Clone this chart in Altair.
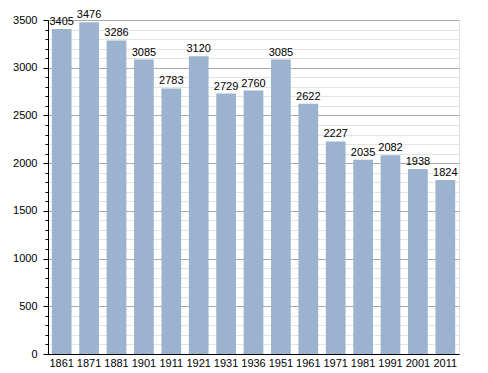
import altair as alt
import pandas as pd

years = ["1861", "1871", "1881", "1901", "1911", "1921", "1931", "1936",
         "1951", "1961", "1971", "1981", "1991", "2001", "2011"]
population = [3405, 3476, 3286, 3085, 2783, 3120, 2729, 2760,
              3085, 2622, 2227, 2035, 2082, 1938, 1824]
y_ticks = list(range(0, 3501, 100))

df = pd.DataFrame({"year": years, "pop": population})

FONT = "Liberation Sans"

x = alt.X("year:N", sort=years, title=None,
          scale=alt.Scale(paddingInner=0.28, paddingOuter=0.14),
          axis=alt.Axis(labelAngle=0, ticks=False, domainColor="#000", domainWidth=1,
                        labelFont=FONT, labelFontSize=11, labelColor="#000",
                        labelPadding=3, grid=False))
y = alt.Y("pop:Q", title=None,
          scale=alt.Scale(domain=[0, 3500], nice=False),
          axis=alt.Axis(values=y_ticks, tickCount=len(y_ticks), labelOverlap=False,
                        domainColor="#000", domainWidth=1,
                        labelExpr="datum.value % 500 === 0 ? datum.label : ''",
                        labelFont=FONT, labelFontSize=11, labelColor="#000",
                        labelPadding=6, format="d",
                        tickColor="#000",
                        tickSize=alt.condition("datum.value % 500 === 0", alt.value(5), alt.value(3)),
                        grid=True,
                        gridColor=alt.condition("datum.value % 500 === 0", alt.value("#a8a8a8"), alt.value("#e4e4e4")),
                        gridWidth=1))

bars = alt.Chart(df).mark_bar(color="#9bb3cf").encode(x=x, y=y)
labels = alt.Chart(df).mark_text(dy=-7, font=FONT, fontSize=11, color="#000").encode(
    x=alt.X("year:N", sort=years), y="pop:Q", text="pop:Q")

chart = (bars + labels).properties(
    width=411, height=334,
    autosize=alt.AutoSizeParams(type="none"),
    padding={"left": 40, "top": 12, "right": 21, "bottom": 19},
).configure_view(stroke=None).configure(background="white")

chart.save("out.html", embed_options={"renderer": "svg", "actions": False})
